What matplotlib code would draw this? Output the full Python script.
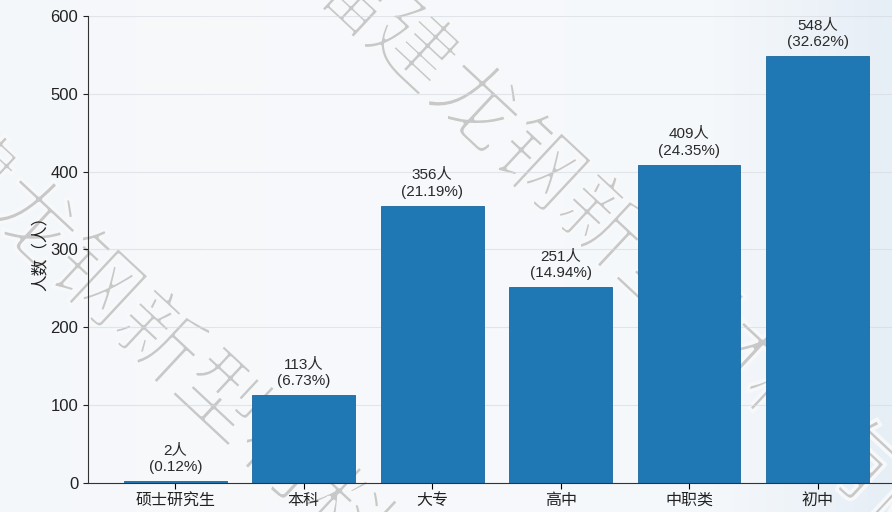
import numpy as np
import matplotlib.pyplot as plt
import matplotlib.patheffects as pe
from matplotlib.colors import LinearSegmentedColormap

plt.rcParams['font.family'] = ['Liberation Sans', 'Noto Sans CJK SC', 'DejaVu Sans']

# data
categories = ["硕士研究生", "本科", "大专", "高中", "中职类", "初中"]
counts = [2, 113, 356, 251, 409, 548]
percents = ["0.12%", "6.73%", "21.19%", "14.94%", "24.35%", "32.62%"]
watermark = "福建龙钢新型材料有限公司"

bg = "#f6f8fa"
fig = plt.figure(figsize=(8.92, 5.12), dpi=100, facecolor=bg)

# soft background, a little bluer toward the right edge
bgax = fig.add_axes([0, 0, 1, 1], zorder=-2)
bgax.axis("off")
cmap = LinearSegmentedColormap.from_list("bg", [(0, "#f4f7fa"), (0.3, "#f8f9fb"),
                                                (0.8, "#f5f8fb"), (1, "#e6eef6")])
bgax.imshow(np.linspace(0, 1, 256)[None, :], cmap=cmap, aspect="auto", extent=[0, 1, 0, 1])

ax = fig.add_axes([0.0987, 0.057, 0.9013, 0.912])
ax.set_facecolor("none")

x = range(len(categories))
bars = ax.bar(x, counts, width=0.8, color="#1f77b4", edgecolor="#1a68a0", linewidth=0.6, zorder=3)

for b, c, p in zip(bars, counts, percents):
    ax.text(b.get_x() + b.get_width() / 2, b.get_height() + 9, f"{c}人\n({p})",
            ha="center", va="bottom", fontsize=11, color="#2a2a2a", linespacing=1.3, zorder=4)

ax.set_xticks(list(x))
ax.set_xticklabels(categories, fontsize=11.5, color="#222222")
ax.set_xlim(-0.68, 5.58)
ax.set_ylim(0, 600)
ax.set_yticks([0, 100, 200, 300, 400, 500, 600])
ax.tick_params(axis="y", labelsize=12, colors="#222222")
ax.tick_params(axis="x", length=4)
ax.set_ylabel("人数（人）", fontsize=12, color="#222222", labelpad=2)
ax.grid(axis="y", color="#d4d9de", linewidth=0.8, alpha=0.6, zorder=3.5)
ax.set_axisbelow(False)
for s in ["top", "right"]:
    ax.spines[s].set_visible(False)
ax.spines["left"].set_color("#333333")
ax.spines["bottom"].set_color("#333333")
ax.spines["left"].set_zorder(5)
ax.spines["bottom"].set_zorder(5)

# watermark, behind the axes
thin = [pe.Stroke(linewidth=2.6, foreground=bg)]
for xa, ya in [(0.354, 1.075), (-0.143, 0.849)]:
    fig.text(xa, ya, watermark, fontsize=62, color="#c8c8c8",
             rotation=-43, ha="left", va="center", rotation_mode="anchor",
             family=["Noto Sans CJK SC"], path_effects=thin, zorder=-1)

fig.savefig("out.png", dpi=100, facecolor=bg)
